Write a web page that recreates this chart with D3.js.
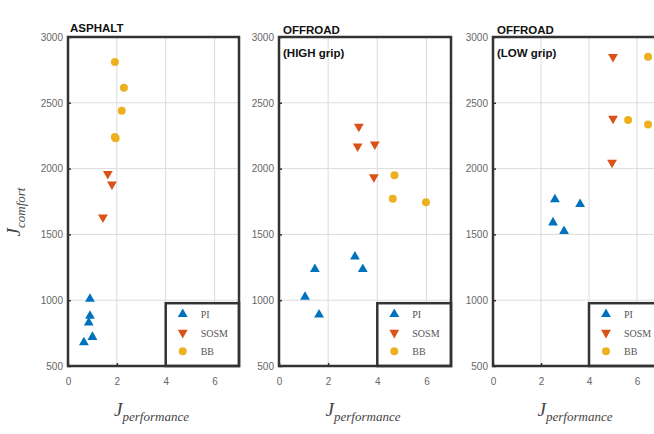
<!DOCTYPE html>
<html><head><meta charset="utf-8">
<script src="https://cdn.jsdelivr.net/npm/d3@7"></script>
<style>body{margin:0;background:#fff}svg{display:block}</style>
</head><body>
<svg id="c" width="654" height="434"></svg>
<script>
// ---- data ----
const seriesNames = ["PI", "SOSM", "BB"];
const xTicks = [0, 2, 4, 6];
const yTicks = [500, 1000, 1500, 2000, 2500, 3000];
const panelTitles = [["ASPHALT"], ["OFFROAD", "(HIGH grip)"], ["OFFROAD", "(LOW grip)"]];

const asphaltPI   = [[0.9,1010],[0.9,880],[0.85,830],[1.0,720],[0.65,680]];
const asphaltSOSM = [[1.63,1960],[1.8,1880],[1.43,1630]];
const asphaltBB   = [[1.92,2810],[2.29,2615],[2.2,2440],[1.92,2240],[1.95,2230]];

const highPI   = [[1.46,1235],[1.06,1025],[1.63,890],[3.09,1330],[3.41,1235]];
const highSOSM = [[3.25,2320],[3.2,2170],[3.9,2185],[3.86,1935]];
const highBB   = [[4.7,1950],[4.63,1770],[5.98,1745]];

const lowPI   = [[2.58,1765],[2.5,1590],[2.96,1525],[3.63,1730]];
const lowSOSM = [[5.0,2850],[5.0,2380],[4.96,2045]];
const lowBB   = [[5.63,2370],[6.46,2850],[6.46,2335]];

const panelData = [
  [asphaltPI, asphaltSOSM, asphaltBB],
  [highPI, highSOSM, highBB],
  [lowPI, lowSOSM, lowBB]
];
const colors = ["#0072BD", "#D95319", "#EDB120"];

// ---- layout ----
const svg = d3.select("#c");
const panels = [{l:68, r:239}, {l:279, r:451}, {l:493, r:661}];
const plotTop = 37, plotBottom = 366;

function marker(g, k, x, y) {
  if (k === 2) {
    g.append("circle").attr("cx", x).attr("cy", y).attr("r", 4).attr("fill", colors[k]);
  } else {
    const sym = d3.symbol().type(d3.symbolTriangle).size(42)();
    g.append("path").attr("d", sym)
      .attr("transform", `translate(${x},${y})` + (k === 1 ? " rotate(180)" : ""))
      .attr("fill", colors[k]);
  }
}

panels.forEach((p, i) => {
  const x = d3.scaleLinear().domain([0, 7]).range([p.l, p.r]);
  const y = d3.scaleLinear().domain([500, 3000]).range([plotBottom, plotTop]);
  const g = svg.append("g");

  // grid
  g.selectAll(".gx").data(xTicks.slice(1)).join("line")
    .attr("x1", d => x(d)).attr("x2", d => x(d)).attr("y1", plotTop).attr("y2", plotBottom)
    .attr("stroke", "#dcdcdc").attr("stroke-width", 1);
  g.selectAll(".gy").data(yTicks.slice(1, -1)).join("line")
    .attr("y1", d => y(d)).attr("y2", d => y(d)).attr("x1", p.l).attr("x2", p.r)
    .attr("stroke", "#dcdcdc").attr("stroke-width", 1);

  // axes
  const ax = g.append("g").attr("transform", `translate(0,${plotBottom})`)
    .call(d3.axisBottom(x).tickValues(xTicks).tickFormat(d3.format("d")).tickSize(-3).tickPadding(12));
  const ay = g.append("g").attr("transform", `translate(${p.l},0)`)
    .call(d3.axisLeft(y).tickValues(yTicks).tickFormat(d3.format("d")).tickSize(-3).tickPadding(5));
  [ax, ay].forEach(a => {
    a.select(".domain").remove();
    a.selectAll("line").attr("stroke", "#333").attr("stroke-width", 1.5);
    a.selectAll("text").attr("font-family", "Liberation Sans, Arial, sans-serif")
      .attr("font-size", 10).attr("fill", "#666");
  });

  // points
  panelData[i].forEach((pts, k) => {
    pts.forEach(d => marker(g, k, x(d[0]), y(d[1])));
  });

  // legend
  const lx = x(4), ly = y(1000) + 3;
  g.append("rect").attr("x", lx).attr("y", ly).attr("width", p.r - lx).attr("height", plotBottom - ly)
    .attr("fill", "#fff").attr("stroke", "#333").attr("stroke-width", 2.5);
  seriesNames.forEach((n, k) => {
    const yy = ly + 11 + k * 18.5;
    marker(g, k, lx + 17, yy);
    g.append("text").attr("x", lx + 35).attr("y", yy + 4).text(n)
      .attr("font-family", "Liberation Serif, Times New Roman, serif").attr("font-size", 10).attr("fill", "#555");
  });

  // box
  g.append("rect").attr("x", p.l).attr("y", plotTop).attr("width", p.r - p.l).attr("height", plotBottom - plotTop)
    .attr("fill", "none").attr("stroke", "#333").attr("stroke-width", 2.5);

  // titles
  panelTitles[i].forEach((t, j) => {
    g.append("text").attr("x", p.l + (i === 0 ? 2 : 4)).attr("y", (i === 0 ? 32 : 34) + j * 23)
      .text(t).attr("font-family", "Liberation Sans, Arial, sans-serif").attr("font-weight", "bold")
      .attr("font-size", 11.5).attr("fill", "#111");
  });

  // x label
  const xl = g.append("text").attr("x", (p.l + Math.min(p.r, 664)) / 2 - 2).attr("y", 416)
    .attr("text-anchor", "middle").attr("font-family", "Liberation Serif, Times New Roman, serif")
    .attr("font-style", "italic").attr("fill", "#444");
  xl.append("tspan").text("J").attr("font-size", 19);
  xl.append("tspan").text("performance").attr("font-size", 13).attr("dy", 5);
});

// y label
const yl = svg.append("text").attr("transform", "translate(20,212) rotate(-90)")
  .attr("text-anchor", "middle").attr("font-family", "Liberation Serif, Times New Roman, serif")
  .attr("font-style", "italic").attr("fill", "#444");
yl.append("tspan").text("J").attr("font-size", 19);
yl.append("tspan").text("comfort").attr("font-size", 13).attr("dy", 5);
</script>
</body></html>
